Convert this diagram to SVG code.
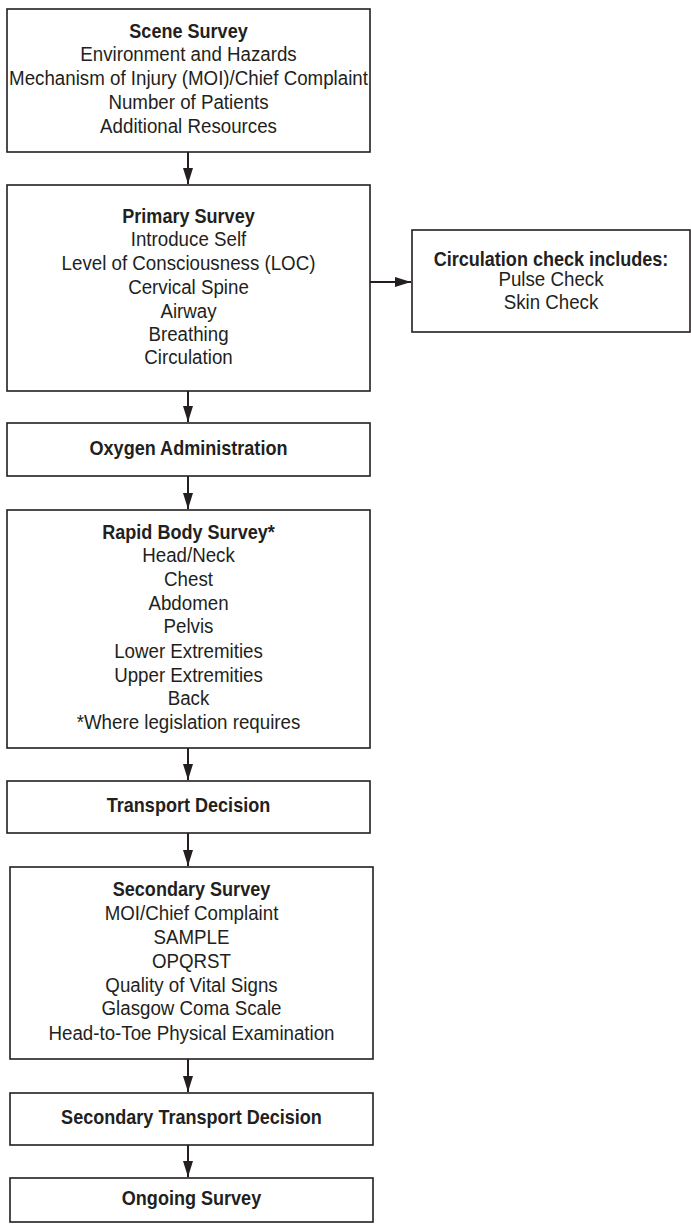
<svg xmlns="http://www.w3.org/2000/svg" width="691" height="1224" viewBox="0 0 691 1224">
<defs>
<style>
.box{fill:#fff;stroke:#231f20;stroke-width:1.6}
.t{font-family:"Liberation Sans",Arial,sans-serif;font-size:19.5px;fill:#231f20;text-anchor:middle}
.b{font-weight:bold}
.c{stroke:#231f20;stroke-width:2;fill:none}
</style>
<marker id="ahv" viewBox="0 0 16 10" refX="16" refY="5" markerWidth="16" markerHeight="10" markerUnits="userSpaceOnUse" orient="auto">
<path d="M0,0 L16,5 L0,10 Z" fill="#231f20"/>
</marker>
</defs>
<rect width="691" height="1224" fill="#fff"/>
<g id="scene">
<rect class="box" x="7" y="9" width="363" height="143"/>
<g transform="translate(188.5,0) scale(0.96,1)">
<text class="t b" x="0" y="38.5" transform="scale(0.965,1)">Scene Survey</text>
<text class="t" x="0" y="61.5">Environment and Hazards</text>
<text class="t" x="0" y="85.5">Mechanism of Injury (MOI)/Chief Complaint</text>
<text class="t" x="0" y="109.5">Number of Patients</text>
<text class="t" x="0" y="133.5">Additional Resources</text>
</g>
</g>
<g id="primary">
<rect class="box" x="7" y="185" width="363" height="206"/>
<g transform="translate(188.5,0) scale(0.96,1)">
<text class="t b" x="0" y="223.5" transform="scale(0.965,1)">Primary Survey</text>
<text class="t" x="0" y="246.5">Introduce Self</text>
<text class="t" x="0" y="270.5">Level of Consciousness (LOC)</text>
<text class="t" x="0" y="294.5">Cervical Spine</text>
<text class="t" x="0" y="318.5">Airway</text>
<text class="t" x="0" y="341.5">Breathing</text>
<text class="t" x="0" y="364.5">Circulation</text>
</g>
</g>
<g id="circulation">
<rect class="box" x="412" y="230" width="278" height="102"/>
<g transform="translate(551,0) scale(0.96,1)">
<text class="t b" x="0" y="266.5" transform="scale(0.965,1)">Circulation check includes:</text>
<text class="t" x="0" y="286.5">Pulse Check</text>
<text class="t" x="0" y="309.5">Skin Check</text>
</g>
</g>
<g id="oxygen">
<rect class="box" x="7" y="423" width="363" height="53"/>
<g transform="translate(188.5,0) scale(0.96,1)">
<text class="t b" x="0" y="455.5" transform="scale(0.965,1)">Oxygen Administration</text>
</g>
</g>
<g id="rapid">
<rect class="box" x="7" y="510" width="363" height="238"/>
<g transform="translate(188.5,0) scale(0.96,1)">
<text class="t b" x="0" y="539.5" transform="scale(0.965,1)">Rapid Body Survey*</text>
<text class="t" x="0" y="562.5">Head/Neck</text>
<text class="t" x="0" y="586.5">Chest</text>
<text class="t" x="0" y="610.5">Abdomen</text>
<text class="t" x="0" y="633.5">Pelvis</text>
<text class="t" x="0" y="658.5">Lower Extremities</text>
<text class="t" x="0" y="682.5">Upper Extremities</text>
<text class="t" x="0" y="705.5">Back</text>
<text class="t" x="0" y="729.5">*Where legislation requires</text>
</g>
</g>
<g id="transport">
<rect class="box" x="7" y="781" width="363" height="52"/>
<g transform="translate(188.5,0) scale(0.96,1)">
<text class="t b" x="0" y="812.5" transform="scale(0.965,1)">Transport Decision</text>
</g>
</g>
<g id="secondary">
<rect class="box" x="10" y="867" width="363" height="192"/>
<g transform="translate(191.5,0) scale(0.96,1)">
<text class="t b" x="0" y="896.5" transform="scale(0.965,1)">Secondary Survey</text>
<text class="t" x="0" y="920.5">MOI/Chief Complaint</text>
<text class="t" x="0" y="944.5">SAMPLE</text>
<text class="t" x="0" y="968.5">OPQRST</text>
<text class="t" x="0" y="992.5">Quality of Vital Signs</text>
<text class="t" x="0" y="1015.5">Glasgow Coma Scale</text>
<text class="t" x="0" y="1040.5">Head-to-Toe Physical Examination</text>
</g>
</g>
<g id="secondary-transport">
<rect class="box" x="10" y="1093" width="363" height="52"/>
<g transform="translate(191.5,0) scale(0.96,1)">
<text class="t b" x="0" y="1124.5" transform="scale(0.965,1)">Secondary Transport Decision</text>
</g>
</g>
<g id="ongoing">
<rect class="box" x="10" y="1178" width="363" height="44"/>
<g transform="translate(191.5,0) scale(0.96,1)">
<text class="t b" x="0" y="1205.5" transform="scale(0.965,1)">Ongoing Survey</text>
</g>
</g>
<g id="connectors">
<line class="c" x1="188" y1="152" x2="188" y2="184" marker-end="url(#ahv)"/>
<line class="c" x1="370" y1="282" x2="411" y2="282" marker-end="url(#ahv)"/>
<line class="c" x1="188" y1="391" x2="188" y2="422" marker-end="url(#ahv)"/>
<line class="c" x1="188" y1="476" x2="188" y2="509" marker-end="url(#ahv)"/>
<line class="c" x1="188" y1="748" x2="188" y2="780" marker-end="url(#ahv)"/>
<line class="c" x1="188" y1="833" x2="188" y2="866" marker-end="url(#ahv)"/>
<line class="c" x1="188" y1="1059" x2="188" y2="1092" marker-end="url(#ahv)"/>
<line class="c" x1="188" y1="1145" x2="188" y2="1177" marker-end="url(#ahv)"/>
</g>
</svg>
